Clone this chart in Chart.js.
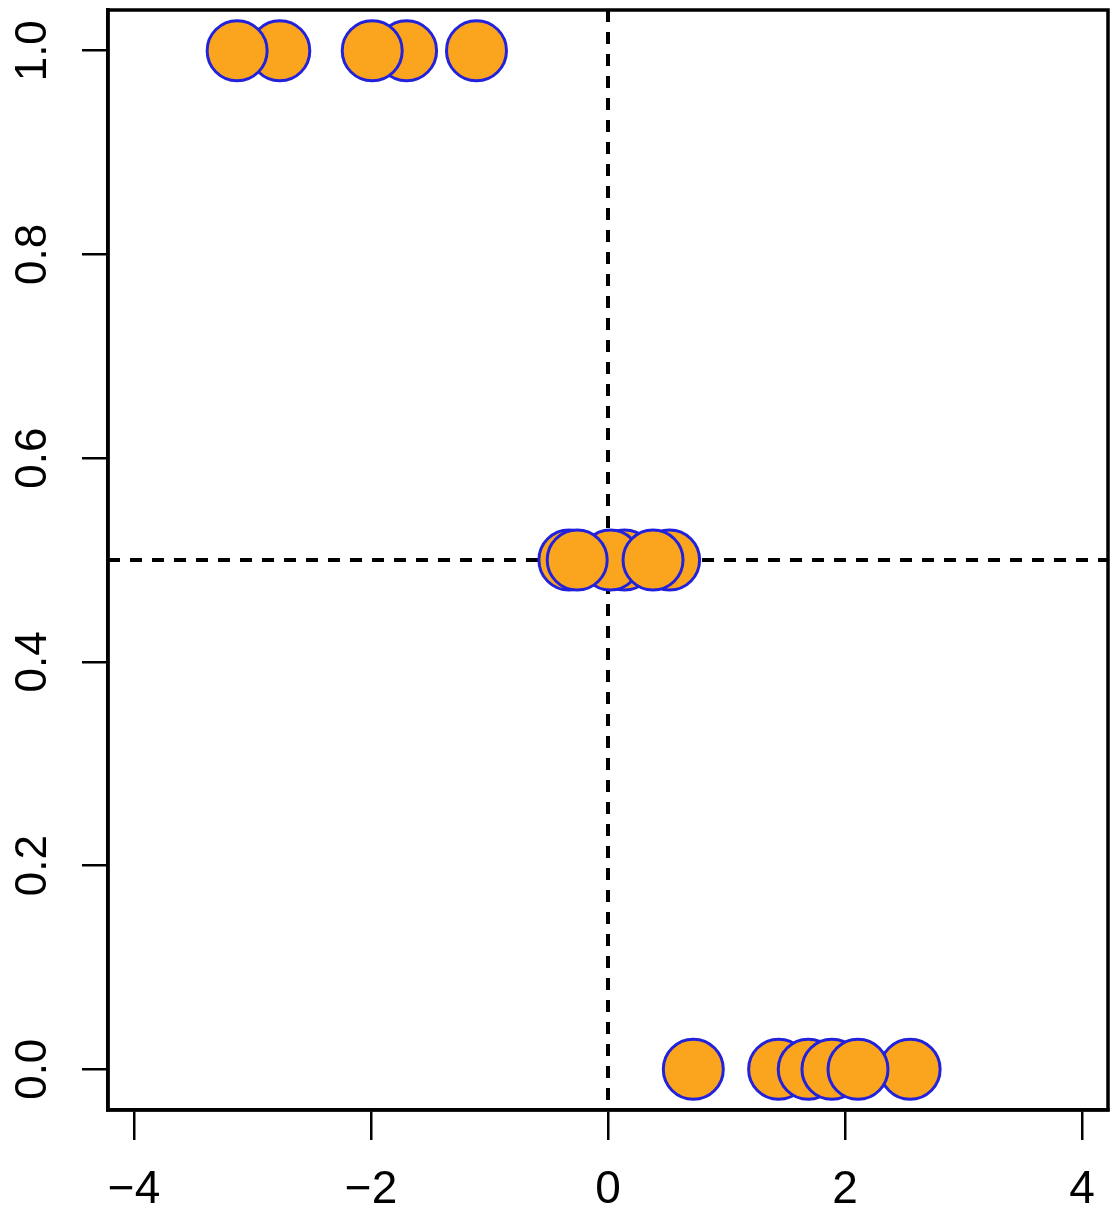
<!DOCTYPE html>
<html>
<head>
<meta charset="utf-8">
<script src="https://cdn.jsdelivr.net/npm/chart.js@4.4.1/dist/chart.umd.min.js"></script>
<style>
  html, body { margin: 0; padding: 0; background: #ffffff; }
  #wrap { width: 1110px; height: 1225px; position: relative; }
</style>
</head>
<body>
<div id="wrap"><canvas id="c" width="1110" height="1225"></canvas></div>
<script>
// ---- data (draw order: later points sit on top) ----
const groupTopX    = [-2.77, -3.13, -1.70, -1.99, -1.11];
const groupTopY    = [1, 1, 1, 1, 1];
const groupMidX    = [0.52, 0.14, 0.02, -0.33, -0.26, 0.38];
const groupMidY    = [0.5, 0.5, 0.5, 0.5, 0.5, 0.5];
const groupBotX    = [0.72, 2.55, 1.44, 1.69, 1.89, 2.11];
const groupBotY    = [0, 0, 0, 0, 0, 0];

const xTicks       = [-4, -2, 0, 2, 4];
const xTickLabels  = ['\u22124', '\u22122', '0', '2', '4'];
const yTicks       = [0, 0.2, 0.4, 0.6, 0.8, 1.0];
const yTickLabels  = ['0.0', '0.2', '0.4', '0.6', '0.8', '1.0'];

const refLineX     = [0];
const refLineY     = [0.5];

const xRange       = [-4.22, 4.22];
const yRange       = [-0.04, 1.04];

// ---- build points ----
const pts = [];
[[groupTopX, groupTopY], [groupMidX, groupMidY], [groupBotX, groupBotY]].forEach(([xs, ys]) => {
  xs.forEach((x, i) => pts.push({ x: x, y: ys[i] }));
});

const boxAndRefs = {
  id: 'boxAndRefs',
  beforeDatasetsDraw(chart) {
    const { ctx, chartArea: a, scales: { x, y } } = chart;
    ctx.save();
    ctx.strokeStyle = '#000';
    ctx.lineWidth = 4;
    ctx.setLineDash([12, 10]);
    refLineX.forEach(v => {
      const px = x.getPixelForValue(v);
      ctx.beginPath(); ctx.moveTo(px, a.top); ctx.lineTo(px, a.bottom); ctx.stroke();
    });
    refLineY.forEach(v => {
      const py = y.getPixelForValue(v);
      ctx.beginPath(); ctx.moveTo(a.left, py); ctx.lineTo(a.right, py); ctx.stroke();
    });
    ctx.restore();
  },
  afterDraw(chart) {
    const { ctx, chartArea: a } = chart;
    ctx.save();
    ctx.strokeStyle = '#000';
    ctx.lineWidth = 3.5;
    ctx.setLineDash([]);
    ctx.strokeRect(a.left, a.top, a.right - a.left, a.bottom - a.top);
    ctx.restore();
  }
};

function zeroPad(s) { s.paddingTop = 0; s.paddingBottom = 0; s.paddingLeft = 0; s.paddingRight = 0; }

new Chart(document.getElementById('c'), {
  type: 'scatter',
  data: {
    datasets: [{
      data: pts,
      pointRadius: 30,
      pointHoverRadius: 30,
      backgroundColor: '#FBA51F',
      borderColor: '#2222DC',
      borderWidth: 3
    }]
  },
  plugins: [boxAndRefs],
  options: {
    responsive: false,
    animation: false,
    events: [],
    clip: false,
    layout: { autoPadding: false, padding: { top: 10, right: 2, left: 0, bottom: 0 } },
    plugins: { legend: { display: false }, tooltip: { enabled: false } },
    scales: {
      x: {
        type: 'linear',
        min: xRange[0], max: xRange[1],
        afterBuildTicks: s => { s.ticks = xTicks.map(v => ({ value: v })); },
        afterFit: s => { s.height = 115; zeroPad(s); },
        ticks: {
          padding: 23,
          color: '#000',
          font: { family: '"Liberation Sans", Arial, sans-serif', size: 46 },
          maxRotation: 0, minRotation: 0,
          callback: (v) => { const i = xTicks.indexOf(v); return i >= 0 ? xTickLabels[i] : ''; }
        },
        grid: { drawOnChartArea: false, tickLength: 30, color: '#000', lineWidth: 2.5 },
        border: { display: true, color: '#000', width: 3.5 }
      },
      y: {
        type: 'linear',
        min: yRange[0], max: yRange[1],
        afterBuildTicks: s => { s.ticks = yTicks.map(v => ({ value: v })); },
        afterFit: s => { s.width = 108; zeroPad(s); },
        ticks: {
          padding: 18,
          color: '#000',
          crossAlign: 'center',
          minRotation: 90, maxRotation: 90,
          font: { family: '"Liberation Sans", Arial, sans-serif', size: 44 },
          callback: (v) => { const i = yTicks.findIndex(t => Math.abs(t - v) < 1e-9); return i >= 0 ? yTickLabels[i] : ''; }
        },
        grid: { drawOnChartArea: false, tickLength: 26, color: '#000', lineWidth: 2.5 },
        border: { display: true, color: '#000', width: 3.5 }
      }
    }
  }
});
</script>
</body>
</html>
